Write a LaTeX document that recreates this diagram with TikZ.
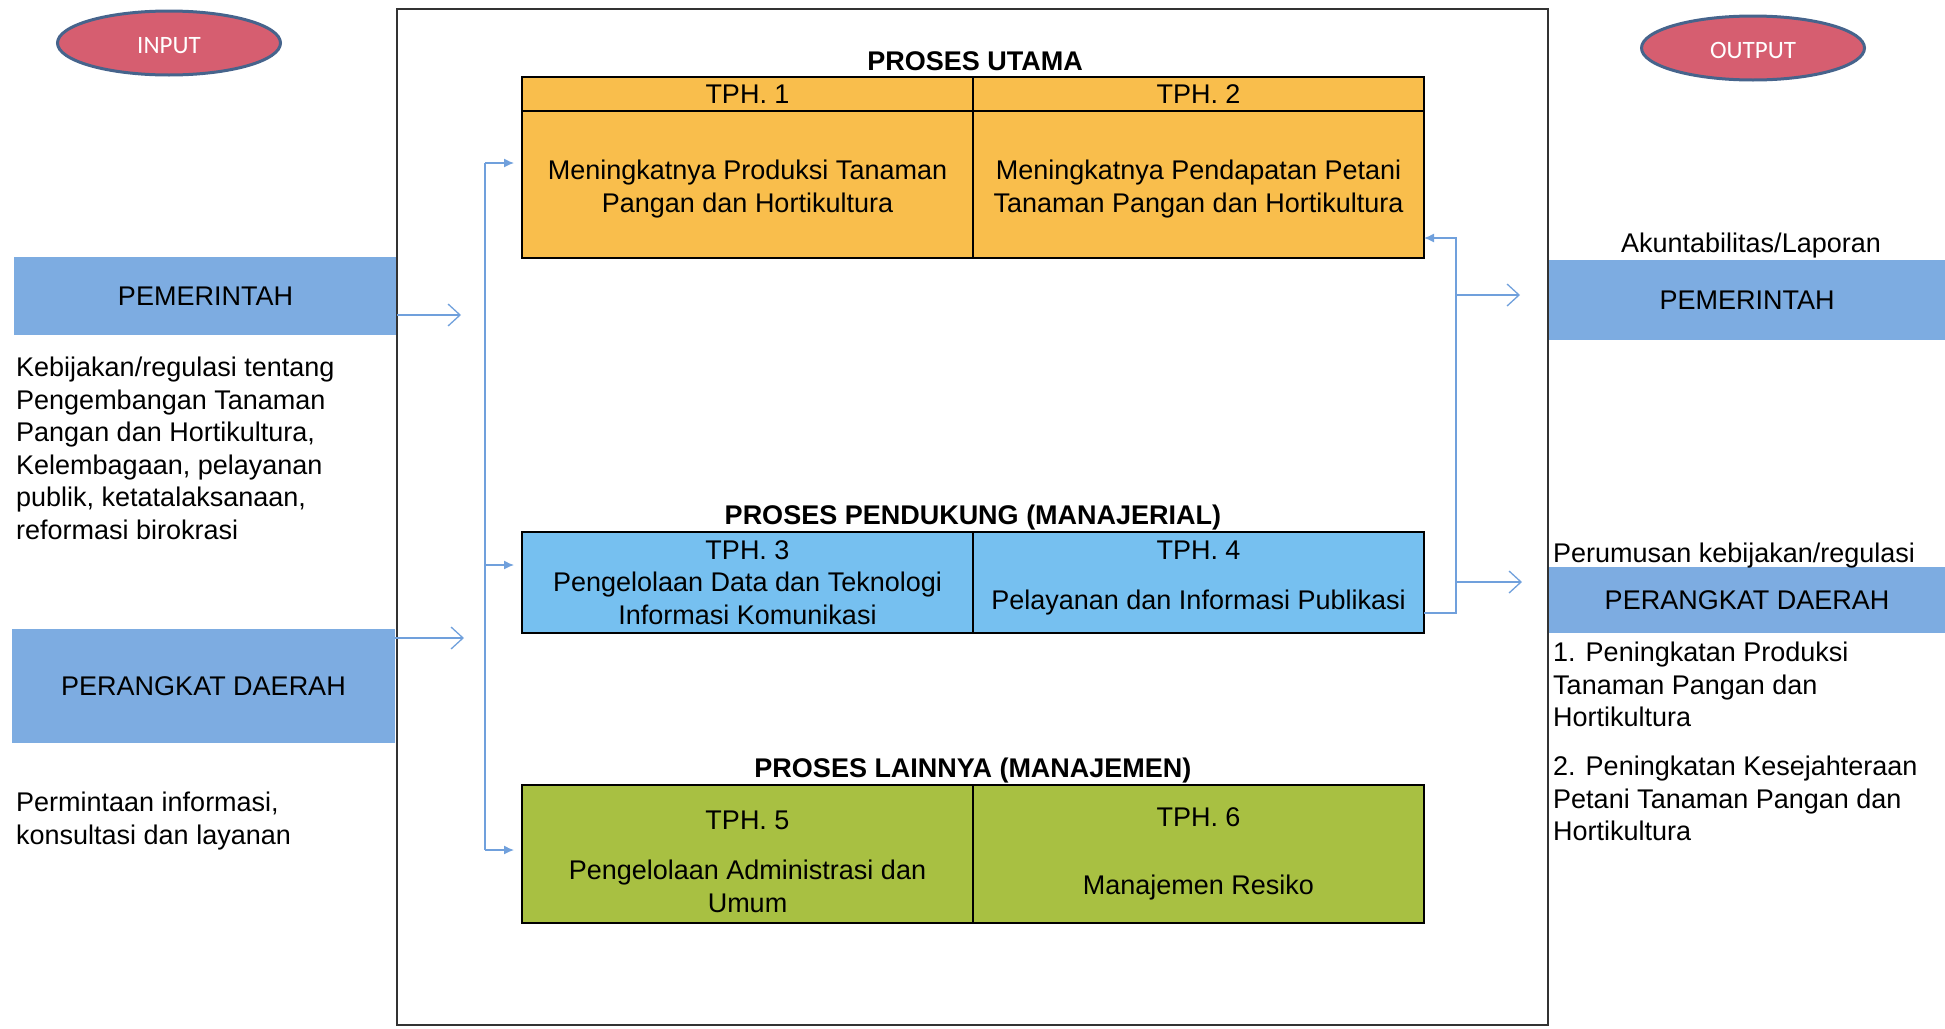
\documentclass[tikz,border=0pt]{standalone}
\usepackage{fontspec}
\setmainfont{Liberation Sans}
\newfontfamily\calibri{Carlito}
\usetikzlibrary{positioning,shapes.geometric,arrows.meta}

\definecolor{ovalred}{RGB}{214,94,112}
\definecolor{ovalline}{RGB}{70,100,140}
\definecolor{bandblue}{RGB}{125,172,225}
\definecolor{tphorange}{RGB}{249,190,76}
\definecolor{tphblue}{RGB}{118,192,240}
\definecolor{tphgreen}{RGB}{168,192,66}
\definecolor{linkblue}{RGB}{112,160,220}

\begin{document}
\begin{tikzpicture}[x=1pt,y=-1pt,
    every node/.style={font=\fontsize{27}{32.5}\selectfont},
    oval/.style={ellipse,draw=ovalline,line width=3pt,fill=ovalred,text=white,text height=22pt,
        minimum width=223pt,minimum height=64pt,font=\calibri\fontsize{25}{30}\selectfont},
    band/.style={fill=bandblue,inner sep=0pt,outer sep=0pt},
    cell/.style={draw,line width=1.8pt,inner sep=0pt,outer sep=0pt,minimum width=451pt,align=center},
    title/.style={anchor=base,inner sep=0pt,font=\bfseries\fontsize{27}{32.5}\selectfont},
    note/.style={anchor=north west,inner sep=0pt,align=left},
    link/.style={draw=linkblue,line width=1.3pt},
    inarrow/.style={link,-{Latex[length=10pt,width=9pt]}},
    outarrow/.style={link,-{Straight Barb[length=12pt,width=22pt]}}]
    \useasboundingbox (0,0) rectangle (1945,1028);

    \node[oval] (input) at (169,43) {INPUT};
    \node[oval] (output) at (1753,48) {OUTPUT};

    % input side
    \node[band,minimum width=383pt,minimum height=78pt] (pemIn) at (205.5,296) {PEMERINTAH};
    \node[band,minimum width=383pt,minimum height=114pt] (pdIn) at (203.5,686) {PERANGKAT DAERAH};
    \node[note] (pemInTxt) at (16,357) {Kebijakan/regulasi tentang\\Pengembangan Tanaman\\Pangan dan Hortikultura,\\Kelembagaan, pelayanan\\publik, ketatalaksanaan,\\reformasi birokrasi};
    \node[note] (pdInTxt) at (16,792) {Permintaan informasi,\\konsultasi dan layanan};

    % output side
    \node[band,minimum width=396pt,minimum height=80pt] (pemOut) at (1747,300) {PEMERINTAH};
    \node[band,minimum width=396pt,minimum height=66pt] (pdOut) at (1747,600) {PERANGKAT DAERAH};
    \node[anchor=base,inner sep=0pt] (pemOutTxt) at (1751,252) {Akuntabilitas/Laporan};
    \node[anchor=base west,inner sep=0pt] (pdOutTxt) at (1553,562) {Perumusan kebijakan/regulasi};
    \node[note] (hasil) at (1553,642) {1. Peningkatan Produksi\\Tanaman Pangan dan\\Hortikultura\\[16.5pt]2. Peningkatan Kesejahteraan\\Petani Tanaman Pangan dan\\Hortikultura};

    \draw[line width=1.5pt,draw=black!80] (397,9) rectangle (1548,1025);

    % proses utama
    \node[title] at (975,70) {PROSES UTAMA};
    \node[cell,fill=tphorange,minimum height=34pt] (h1) at (747.5,94) {TPH. 1};
    \node[cell,fill=tphorange,minimum height=34pt,right=0pt of h1] (h2) {TPH. 2};
    \node[cell,fill=tphorange,minimum height=147pt,below=0pt of h1] (b1) {\rule{0pt}{28.6pt}Meningkatnya Produksi Tanaman\\Pangan dan Hortikultura};
    \node[cell,fill=tphorange,minimum height=147pt,right=0pt of b1] (b2) {\rule{0pt}{28.6pt}Meningkatnya Pendapatan Petani\\Tanaman Pangan dan Hortikultura};

    % proses pendukung
    \node[title] at (973,524) {PROSES PENDUKUNG (MANAJERIAL)};
    \node[cell,fill=tphblue,minimum height=101pt] (c3) at (747.5,582.5) {TPH. 3\\Pengelolaan Data dan Teknologi\\Informasi Komunikasi};
    \node[cell,fill=tphblue,minimum height=101pt,right=0pt of c3] (c4) {TPH. 4\\[17.5pt]Pelayanan dan Informasi Publikasi\rule[-14.9pt]{0pt}{0pt}};

    % proses lainnya
    \node[title] at (973,777) {PROSES LAINNYA (MANAJEMEN)};
    \node[cell,fill=tphgreen,minimum height=138pt] (g5) at (747.5,854) {\rule{0pt}{34.3pt}TPH. 5\\[17.5pt]Pengelolaan Administrasi dan\\Umum};
    \node[cell,fill=tphgreen,minimum height=138pt,right=0pt of g5] (g6) {TPH. 6\\[35.5pt]Manajemen Resiko};

    \coordinate (pin) at (461,315);
    \coordinate (din) at (464,638);
    \draw[outarrow] (pemIn.east |- pin) -- (pin);
    \draw[outarrow] (pdIn.east |- din) -- (din);

    \coordinate (j1) at (485,163);
    \coordinate (j2) at (485,565);
    \coordinate (j3) at (485,850);
    \draw[link] (j1) -- (j3);
    \foreach \j/\n in {j1/b1,j2/c3,j3/g5}
        \draw[inarrow,shorten >=8pt] (\j) -- (\j -| \n.west);

    \coordinate (r1) at (1456,238);
    \coordinate (r2) at (1456,613);
    \draw[inarrow] (r2 -| c4.east) -- (r2) -- (r1) -- (r1 -| b2.east);
    \coordinate (o1) at (1520,295);
    \coordinate (o2) at (1522,582);
    \draw[outarrow] (o1 -| r1) -- (o1);
    \draw[outarrow] (o2 -| r1) -- (o2);
\end{tikzpicture}
\end{document}
